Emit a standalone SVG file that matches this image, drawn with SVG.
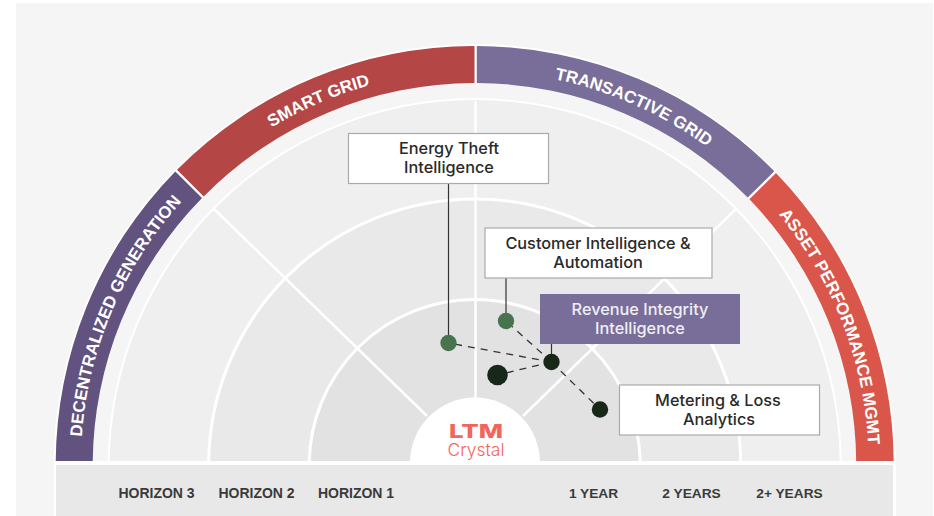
<svg xmlns="http://www.w3.org/2000/svg" width="934" height="516" viewBox="0 0 934 516">
<style>
.band{font:bold 17px "Liberation Sans",Arial,sans-serif;fill:#fff;text-anchor:middle}
.ring{stroke:#fff;stroke-width:3}
.spoke{stroke:#fff;stroke-width:2.5;fill:none}
.box{fill:#fff;stroke:#aaa;stroke-width:1.2}
.lbl{font:500 16.300px Inter,"Noto Sans",sans-serif;fill:#2a2a2a;text-anchor:middle}
.ax{font:bold 14px "Liberation Sans",Arial,sans-serif;fill:#3a3a3a;text-anchor:middle}
.yr{font-size:13.700px}
.dash{stroke:#333;stroke-width:1.300;stroke-dasharray:7 6;fill:none}
.stem{stroke:#333;stroke-width:1.200;fill:none}
.dark{fill:#182818}
.green{fill:#47744f}
</style>
<defs>
<path id="tp" d="M 80.700 465 A 394 394 0 0 1 868.700 465"/>
<clipPath id="top"><rect x="0" y="0" width="934" height="461"/></clipPath>
</defs>
<rect width="934" height="516" fill="#fff"/>
<rect x="16" y="3" width="917" height="513" fill="#f5f5f5"/>
<rect x="54" y="461" width="842" height="55" fill="#fff"/>
<g clip-path="url(#top)">
<circle cx="474.700" cy="465" r="421" fill="#fff"/>
<circle cx="474.700" cy="465" r="382" fill="#f5f5f5"/>
<circle cx="474.700" cy="465" r="367" fill="#fff"/>
<circle cx="474.700" cy="465" r="365" fill="#efefef"/>
<circle cx="474.700" cy="465" r="266" fill="#e9e9e9" class="ring"/>
<circle cx="474.700" cy="465" r="165.500" fill="#e2e2e2" class="ring"/>
<path id="seg-dg" d="M55.700 465A419 419 0 0 1 175.300 171.400L202 198.100A382 382 0 0 0 92.700 465Z" fill="#62527f"/>
<path id="seg-sg" d="M177 169.700A419 419 0 0 1 474.500 46V83A382 382 0 0 0 203.700 196.400Z" fill="#b54646"/>
<path id="seg-tg" d="M476.800 46A419 419 0 0 1 774.300 171.200L747.700 197.600A382 382 0 0 0 476.800 83Z" fill="#786e99"/>
<path id="seg-ap" d="M776 172.900A419 419 0 0 1 893.700 465H856.200A382 382 0 0 0 749.400 199.300Z" fill="#da564a"/>
<path class="spoke" d="M475.500 101V400M213 208L427 416M737 208L523 416"/>
<circle cx="475" cy="462.500" r="65" fill="#fff"/>
</g>
<rect x="56" y="465" width="837" height="51" fill="#e8e8e8"/>
<g id="band-labels">
<text class="band"><textPath href="#tp" startOffset="12.800%">DECENTRALIZED GENERATION</textPath></text>
<text class="band"><textPath href="#tp" startOffset="37.100%">SMART GRID</textPath></text>
<text class="band"><textPath href="#tp" startOffset="63.300%">TRANSACTIVE GRID</textPath></text>
<text class="band"><textPath href="#tp" startOffset="88.200%">ASSET PERFORMANCE MGMT</textPath></text>
</g>
<g id="connectors">
<path class="stem" d="M448.500 183V343M506 278V321M551.500 344V362"/>
<path class="dash" d="M551.500 362L448.500 343M551.500 362L506 321M551.500 362L497.500 375M551.500 362L600 409.500"/>
</g>
<g id="node-energy-theft">
<rect class="box" x="348.500" y="133.500" width="200" height="50"/>
<text class="lbl" x="449" y="154">Energy Theft</text><text class="lbl" x="449" y="173">Intelligence</text>
<circle class="green" cx="448.500" cy="343" r="8.200"/>
</g>
<g id="node-customer">
<rect class="box" x="485" y="228" width="227" height="50"/>
<text class="lbl" x="598" y="249">Customer Intelligence &amp;</text><text class="lbl" x="598" y="268">Automation</text>
<circle class="green" cx="506" cy="321" r="8.200"/>
</g>
<g id="node-revenue">
<rect x="540" y="294" width="200" height="50" fill="#786e99"/>
<text class="lbl" x="640" y="315" style="fill:#f0eef5">Revenue Integrity</text><text class="lbl" x="640" y="334" style="fill:#f0eef5">Intelligence</text>
<circle class="dark" cx="551.500" cy="362" r="8.200"/>
</g>
<g id="node-unlabelled"><circle class="dark" cx="497.500" cy="375" r="10.300"/></g>
<g id="node-metering">
<rect class="box" x="619.500" y="385" width="200" height="50"/>
<text class="lbl" x="718" y="406">Metering &amp; Loss</text><text class="lbl" x="719" y="425">Analytics</text>
<circle class="dark" cx="600" cy="409.500" r="8.200"/>
</g>
<g id="node-logo">
<text x="449" y="438" textLength="54" lengthAdjust="spacingAndGlyphs" style="font:800 19px Inter,sans-serif;fill:#f2655a">LTM</text>
<text x="476" y="455.500" text-anchor="middle" style="font:300 17.500px Inter,sans-serif;fill:#f2655a">Crystal</text>
</g>
<g id="axis">
<text class="ax" x="156.500" y="498">HORIZON 3</text>
<text class="ax" x="256.500" y="498">HORIZON 2</text>
<text class="ax" x="356" y="498">HORIZON 1</text>
<text class="ax yr" x="593.500" y="498">1 YEAR</text>
<text class="ax yr" x="691.500" y="498">2 YEARS</text>
<text class="ax yr" x="789.500" y="498">2+ YEARS</text>
</g>
</svg>
